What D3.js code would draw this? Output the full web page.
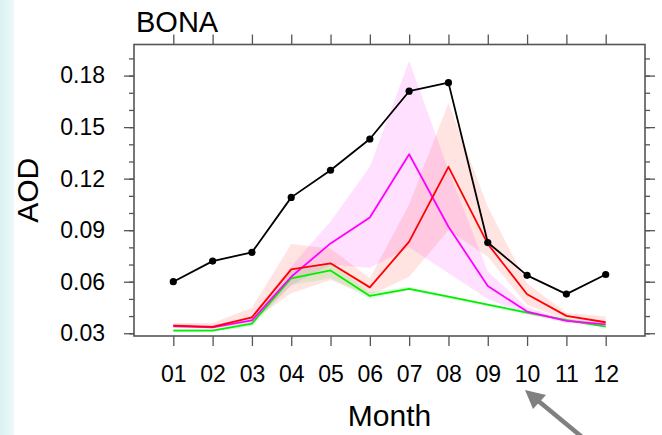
<!DOCTYPE html>
<html>
<head>
<meta charset="utf-8">
<script src="https://cdn.jsdelivr.net/npm/d3@7"></script>
<style>
  body { margin: 0; background: #fff; }
  svg text { font-family: "Liberation Sans", Arial, sans-serif; fill: #000; }
</style>
</head>
<body>
<svg id="chart" width="662" height="435"></svg>
<script>
// months and tick labels
const months = [1, 2, 3, 4, 5, 6, 7, 8, 9, 10, 11, 12];
const yMajor = [0.03, 0.06, 0.09, 0.12, 0.15, 0.18];
const yMinor = [0.03, 0.04, 0.05, 0.06, 0.07, 0.08, 0.09, 0.1, 0.11, 0.12, 0.13, 0.14, 0.15, 0.16, 0.17, 0.18, 0.19];

// observed (black with dots)
const obs = [0.060, 0.072, 0.0771, 0.1091, 0.1249, 0.1431, 0.1709, 0.1759, 0.0828, 0.0637, 0.0528, 0.0642];

// magenta run + spread
const magenta = [0.0341, 0.0334, 0.0375, 0.0629, 0.0823, 0.0974, 0.1342, 0.0920, 0.0575, 0.0426, 0.0372, 0.0352];
const magentaLo = [0.0330, 0.0325, 0.0360, 0.0580, 0.0700, 0.0680, 0.0800, 0.0650, 0.0500, 0.0410, 0.0360, 0.0340];
const magentaHi = [0.0355, 0.0345, 0.0400, 0.0690, 0.0950, 0.1270, 0.1885, 0.1250, 0.0660, 0.0450, 0.0385, 0.0360];

// red run + spread
const red = [0.0344, 0.0337, 0.0393, 0.0672, 0.0707, 0.0567, 0.0833, 0.1269, 0.0820, 0.0527, 0.0401, 0.0364];
const redLo = [0.0330, 0.0330, 0.0370, 0.0533, 0.0610, 0.0520, 0.0629, 0.0900, 0.0745, 0.0465, 0.0380, 0.0350];
const redHi = [0.0360, 0.0360, 0.0449, 0.0819, 0.0794, 0.0620, 0.1050, 0.1641, 0.1036, 0.0590, 0.0420, 0.0397];

// green run + spread
const green = [0.0315, 0.0315, 0.0356, 0.0620, 0.0666, 0.0517, 0.0559, 0.0513, 0.0466, 0.0420, 0.0377, 0.0338];
const greenLo = [0.0310, 0.0310, 0.0340, 0.0580, 0.0620, 0.0500, 0.0550, 0.0500, 0.0455, 0.0410, 0.0370, 0.0335];
const greenHi = [0.0325, 0.0325, 0.0370, 0.0660, 0.0710, 0.0540, 0.0570, 0.0520, 0.0470, 0.0430, 0.0385, 0.0350];

const svg = d3.select("#chart");

// light cyan strip on the left edge (slide background)
const grad = svg.append("defs").append("linearGradient").attr("id", "edge")
  .attr("x1", 0).attr("x2", 1).attr("y1", 0).attr("y2", 0);
grad.append("stop").attr("offset", "0%").attr("stop-color", "#d8f1f3");
grad.append("stop").attr("offset", "100%").attr("stop-color", "#eefafa");
svg.append("rect").attr("x", 0).attr("y", 0).attr("width", 14).attr("height", 435)
  .attr("fill", "url(#edge)");

const frame = { left: 134, right: 645, top: 44.5, bottom: 336 };

const x = d3.scaleLinear().domain([0, 13]).range([frame.left, frame.right]);
const y = d3.scaleLinear().domain([0.0284, 0.1981]).range([frame.bottom, frame.top]);

// shaded spreads
const band = (lo, hi) => d3.area()
  .x((d, i) => x(months[i]))
  .y0((d, i) => y(lo[i]))
  .y1((d, i) => y(hi[i]))(months);

svg.append("path").attr("d", band(magentaLo, magentaHi))
  .attr("fill", "#ff00ff").attr("fill-opacity", 0.12);
svg.append("path").attr("d", band(redLo, redHi))
  .attr("fill", "#ff3020").attr("fill-opacity", 0.13);
svg.append("path").attr("d", band(greenLo, greenHi))
  .attr("fill", "#00dd00").attr("fill-opacity", 0.12);

// lines
const line = d3.line().x((d, i) => x(months[i])).y((d) => y(d));

[[green, "#00ee00"], [magenta, "#ff00ff"], [red, "#ff0000"], [obs, "#000000"]].forEach(([vals, col]) => {
  svg.append("path").attr("d", line(vals))
    .attr("fill", "none").attr("stroke", col).attr("stroke-width", 1.8)
    .attr("stroke-linejoin", "round");
});

svg.selectAll("circle.obs").data(obs).enter().append("circle")
  .attr("class", "obs")
  .attr("cx", (d, i) => x(months[i]))
  .attr("cy", (d) => y(d))
  .attr("r", 3.6)
  .attr("fill", "#000");

// axes
const tickCol = "#555";
const styleAxis = (g) => {
  g.select(".domain").remove();
  g.selectAll("line").attr("stroke", tickCol).attr("stroke-width", 1.3);
};

svg.append("g").attr("transform", `translate(0,${frame.bottom})`)
  .call(d3.axisBottom(x).tickValues(months).tickSize(10).tickSizeOuter(0).tickPadding(20)
    .tickFormat(d3.format("02")))
  .call(styleAxis)
  .call((g) => g.selectAll("text").attr("font-size", 23).attr("font-family", "Liberation Sans, Arial, sans-serif"));

svg.append("g").attr("transform", `translate(0,${frame.top})`)
  .call(d3.axisTop(x).tickValues(months).tickSize(10).tickSizeOuter(0).tickFormat(""))
  .call(styleAxis);

svg.append("g").attr("transform", `translate(${frame.left},0)`)
  .call(d3.axisLeft(y).tickValues(yMinor).tickSize(5).tickSizeOuter(0).tickFormat(""))
  .call(styleAxis);
svg.append("g").attr("transform", `translate(${frame.left},0)`)
  .call(d3.axisLeft(y).tickValues(yMajor).tickSize(10).tickSizeOuter(0).tickPadding(19)
    .tickFormat(d3.format(".2f")))
  .call(styleAxis)
  .call((g) => g.selectAll("text").attr("font-size", 23).attr("font-family", "Liberation Sans, Arial, sans-serif"));

svg.append("g").attr("transform", `translate(${frame.right},0)`)
  .call(d3.axisRight(y).tickValues(yMinor).tickSize(5).tickSizeOuter(0).tickFormat(""))
  .call(styleAxis);
svg.append("g").attr("transform", `translate(${frame.right},0)`)
  .call(d3.axisRight(y).tickValues(yMajor).tickSize(10).tickSizeOuter(0).tickFormat(""))
  .call(styleAxis);

svg.append("rect")
  .attr("x", frame.left).attr("y", frame.top)
  .attr("width", frame.right - frame.left).attr("height", frame.bottom - frame.top)
  .attr("fill", "none").attr("stroke", tickCol).attr("stroke-width", 1.6);

// titles
svg.append("text").attr("x", 136).attr("y", 32).attr("font-size", 29).text("BONA");

svg.append("text")
  .attr("x", (frame.left + frame.right) / 2).attr("y", 426)
  .attr("text-anchor", "middle").attr("font-size", 30).text("Month");

svg.append("text")
  .attr("transform", `translate(38,${(frame.top + frame.bottom) / 2}) rotate(-90)`)
  .attr("text-anchor", "middle").attr("font-size", 30).text("AOD");

// grey pointer arrow from the slide
const arrowCol = "#808080";
svg.append("line")
  .attr("x1", 582).attr("y1", 437).attr("x2", 536).attr("y2", 399)
  .attr("stroke", arrowCol).attr("stroke-width", 4.5);
svg.append("path")
  .attr("d", "M525,390 L546,395 L533,409 Z")
  .attr("fill", arrowCol);
</script>
</body>
</html>
